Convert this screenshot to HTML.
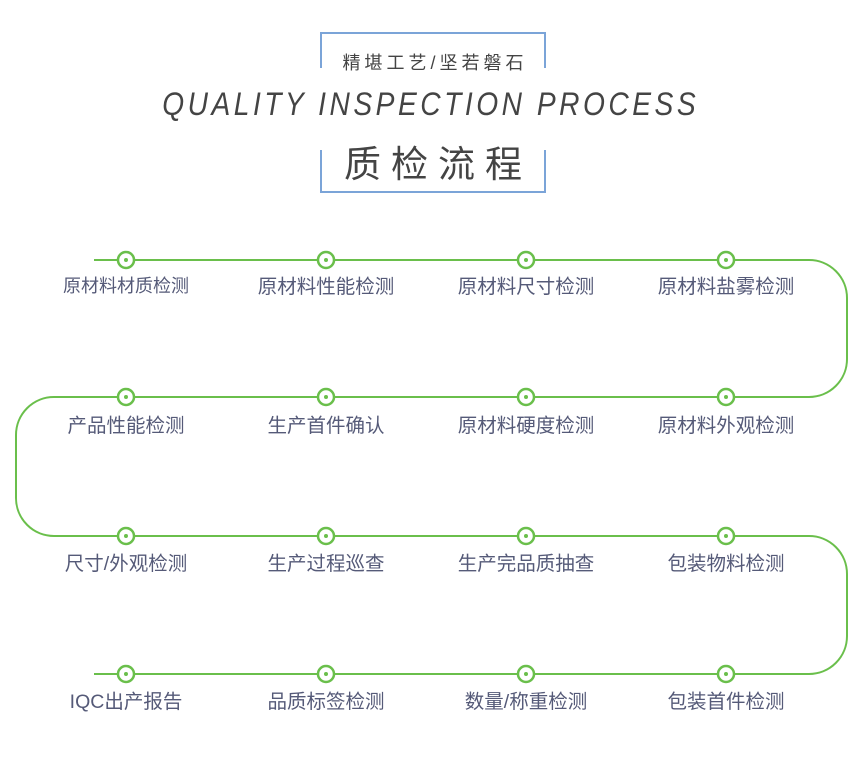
<!DOCTYPE html>
<html><head><meta charset="utf-8"><style>
body{margin:0;background:#fff;width:861px;height:766px;overflow:hidden;position:relative;font-family:"Liberation Sans","Noto Sans CJK SC",sans-serif}
.t{position:absolute;color:#555a78;font-size:19.5px;white-space:nowrap;transform:translateX(-50%)}
</style></head><body>
<svg width="861" height="766" style="position:absolute;left:0;top:0">
<g stroke="#7ba4d8" stroke-width="2" fill="none">
<path d="M321 68 V33 H545 V68"/>
<path d="M321 150 V192 H545 V150"/>
</g>
<g stroke="#6abf4b" stroke-width="2" fill="none">
<path d="M94 260 H809 A38 38 0 0 1 847 298 V359 A38 38 0 0 1 809 397 H54 A38 38 0 0 0 16 435 V498 A38 38 0 0 0 54 536 H809 A38 38 0 0 1 847 574 V636 A38 38 0 0 1 809 674 H94"/>
</g>
</svg>
<div style="position:absolute;left:321px;top:49px;width:224px;text-align:center;font-size:18px;color:#444;letter-spacing:4px;text-indent:4px">精堪工艺/坚若磐石</div>
<div style="position:absolute;left:0;top:86px;width:861px;text-align:center;font-size:32px;color:#444;font-style:italic;letter-spacing:4px;transform:scaleX(0.88);transform-origin:432px 0">QUALITY INSPECTION PROCESS</div>
<div style="position:absolute;left:321px;top:134px;width:224px;text-align:center;font-size:37px;color:#444;letter-spacing:10px;text-indent:10px">质检流程</div>
<svg width="861" height="766" style="position:absolute;left:0;top:0">
<g fill="#fff" stroke="#6abf4b" stroke-width="2.5">
<circle cx="126" cy="260" r="8"/><circle cx="326" cy="260" r="8"/><circle cx="526" cy="260" r="8"/><circle cx="726" cy="260" r="8"/>
<circle cx="126" cy="397" r="8"/><circle cx="326" cy="397" r="8"/><circle cx="526" cy="397" r="8"/><circle cx="726" cy="397" r="8"/>
<circle cx="126" cy="536" r="8"/><circle cx="326" cy="536" r="8"/><circle cx="526" cy="536" r="8"/><circle cx="726" cy="536" r="8"/>
<circle cx="126" cy="674" r="8"/><circle cx="326" cy="674" r="8"/><circle cx="526" cy="674" r="8"/><circle cx="726" cy="674" r="8"/>
</g>
<g fill="#6abf4b">
<circle cx="126" cy="260" r="2"/><circle cx="326" cy="260" r="2"/><circle cx="526" cy="260" r="2"/><circle cx="726" cy="260" r="2"/>
<circle cx="126" cy="397" r="2"/><circle cx="326" cy="397" r="2"/><circle cx="526" cy="397" r="2"/><circle cx="726" cy="397" r="2"/>
<circle cx="126" cy="536" r="2"/><circle cx="326" cy="536" r="2"/><circle cx="526" cy="536" r="2"/><circle cx="726" cy="536" r="2"/>
<circle cx="126" cy="674" r="2"/><circle cx="326" cy="674" r="2"/><circle cx="526" cy="674" r="2"/><circle cx="726" cy="674" r="2"/>
</g>
</svg>
<div class="t" style="left:126px;top:272px;font-size:18px">原材料材质检测</div>
<div class="t" style="left:326px;top:270px">原材料性能检测</div>
<div class="t" style="left:526px;top:270px">原材料尺寸检测</div>
<div class="t" style="left:726px;top:270px">原材料盐雾检测</div>
<div class="t" style="left:126px;top:409px">产品性能检测</div>
<div class="t" style="left:326px;top:409px">生产首件确认</div>
<div class="t" style="left:526px;top:409px">原材料硬度检测</div>
<div class="t" style="left:726px;top:409px">原材料外观检测</div>
<div class="t" style="left:126px;top:547px">尺寸/外观检测</div>
<div class="t" style="left:326px;top:547px">生产过程巡查</div>
<div class="t" style="left:526px;top:547px">生产完品质抽查</div>
<div class="t" style="left:726px;top:547px">包装物料检测</div>
<div class="t" style="left:126px;top:685px">IQC出产报告</div>
<div class="t" style="left:326px;top:685px">品质标签检测</div>
<div class="t" style="left:526px;top:685px">数量/称重检测</div>
<div class="t" style="left:726px;top:685px">包装首件检测</div>
</body></html>
